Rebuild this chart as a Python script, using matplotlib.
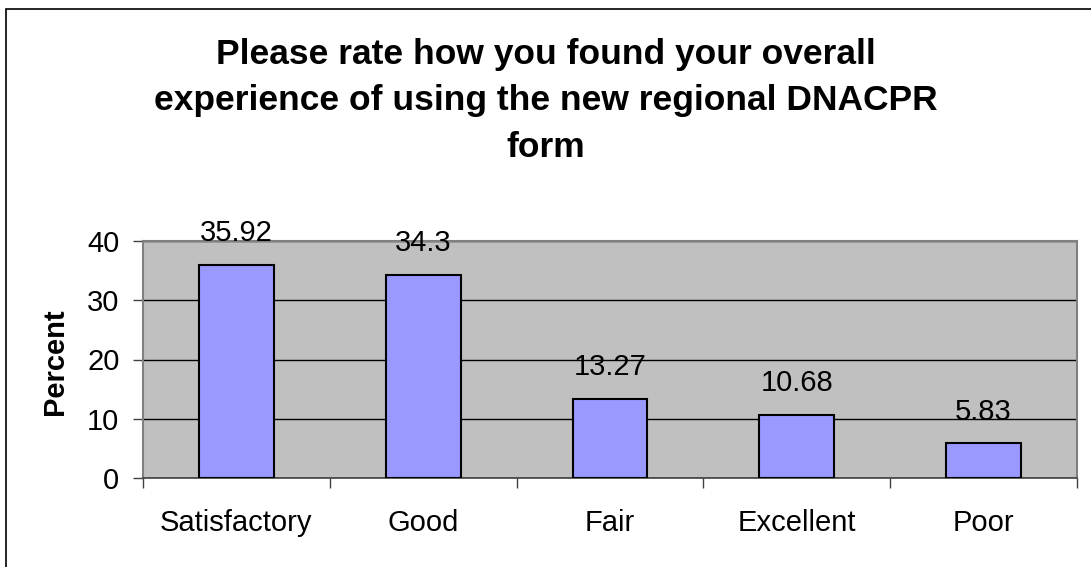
import numpy as np
import matplotlib.pyplot as plt
from matplotlib.patches import Rectangle

categories = ["Satisfactory", "Good", "Fair", "Excellent", "Poor"]
percent = [35.92, 34.3, 13.27, 10.68, 5.83]
labels = ["35.92", "34.3", "13.27", "10.68", "5.83"]

plt.rcParams['font.family'] = ['Liberation Sans', 'DejaVu Sans']

fig = plt.figure(figsize=(10.91, 5.67), dpi=100)

# outer chart border (right/bottom run off the image)
fig.patches.append(Rectangle((6 / 1091, -0.1), 1.2, 1 - 9 / 567 + 0.1,
                             transform=fig.transFigure, fill=False,
                             edgecolor='black', linewidth=1.2))

ax = fig.add_axes([143 / 1091, 1 - 478 / 567, (1077 - 143) / 1091, (478 - 241) / 567])
ax.set_facecolor('#C0C0C0')

x = np.arange(len(categories))
ax.bar(x, percent, width=0.4, color='#9999FF', edgecolor='black', linewidth=1.5, zorder=3)

for xi, v, t in zip(x, percent, labels):
    ax.annotate(t, (xi, v), xytext=(0, 23), textcoords='offset points',
                ha='center', va='center', fontsize=21)

ax.set_xlim(-0.5, len(categories) - 0.5)
ax.set_ylim(0, 40)
ax.set_yticks([0, 10, 20, 30, 40])
ax.yaxis.grid(True, color='black', linewidth=1.0, zorder=0)
ax.set_axisbelow(True)

ax.set_xticks(x)
ax.set_xticklabels(categories, fontsize=21)
ax.set_xticks(np.arange(-0.5, len(categories)), minor=True)
ax.tick_params(axis='x', which='major', length=0, pad=22)
ax.tick_params(axis='x', which='minor', length=7, width=1, color='#404040', direction='out')
ax.tick_params(axis='y', labelsize=21, length=7, width=1, color='#404040', pad=10)

for s in ['top', 'right', 'left']:
    ax.spines[s].set_color('#808080')
    ax.spines[s].set_linewidth(1.5)
ax.spines['bottom'].set_color('#404040')
ax.spines['bottom'].set_linewidth(1.2)

fig.text(55 / 1091, 1 - 362 / 567, "Percent", rotation=90, ha='center', va='center',
         fontsize=21, fontweight='bold')

fig.text(0.5, 1 - 101 / 567,
         "Please rate how you found your overall\nexperience of using the new regional DNACPR\nform",
         ha='center', va='center', fontsize=25.5, fontweight='bold', linespacing=1.52)

fig.savefig("out.png", dpi=100)
